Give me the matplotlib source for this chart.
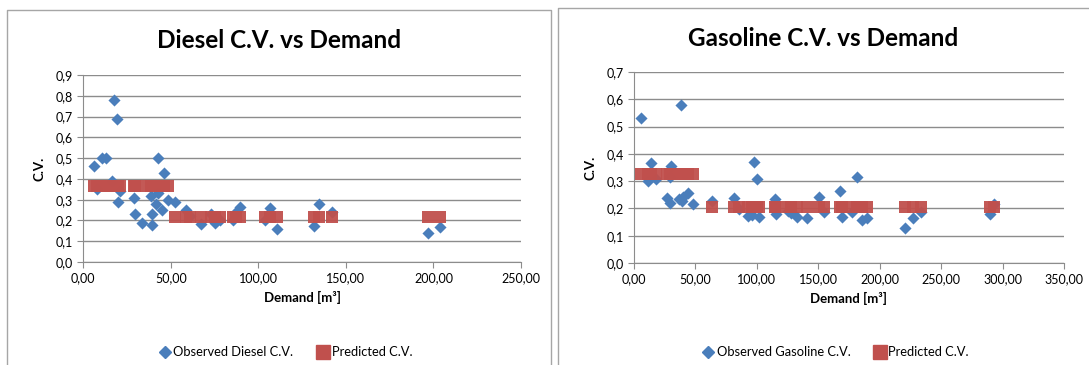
import numpy as np
import matplotlib.pyplot as plt
from matplotlib.ticker import FuncFormatter, MultipleLocator
from matplotlib.lines import Line2D

plt.rcParams['font.family'] = ['Lato', 'DejaVu Sans']

# Diesel: observed C.V. and predicted C.V. against demand [m3]
diesel_demand = [6.2, 7.6, 10.5, 13.0, 16.5, 17.7, 19.4, 20.0, 20.9, 29.0, 29.5,
                 33.8, 38.6, 39.5, 39.5, 41.8, 42.4, 42.8, 45.0, 46.2, 48.5, 52.3,
                 58.5, 61.0, 67.5, 73.2, 75.0, 78.0, 85.5, 87.4, 89.3, 104.0,
                 106.4, 110.8, 131.7, 134.5, 141.8, 196.7, 204.0]
diesel_observed = [0.46, 0.35, 0.50, 0.50, 0.39, 0.78, 0.69, 0.29, 0.34, 0.31, 0.23,
                   0.19, 0.32, 0.18, 0.23, 0.28, 0.33, 0.50, 0.25, 0.43, 0.30, 0.29,
                   0.25, 0.22, 0.185, 0.23, 0.19, 0.20, 0.20, 0.24, 0.265, 0.20,
                   0.26, 0.157, 0.173, 0.277, 0.24, 0.14, 0.17]
diesel_predicted = [0.367] * 21 + [0.215] * 18

# Gasoline: observed C.V. and predicted C.V. against demand [m3]
gasoline_demand = [5.7, 11.1, 13.8, 17.9, 26.6, 29.3, 29.3, 30.0, 36.8, 38.2, 38.8,
                   40.0, 44.2, 47.7, 63.7, 81.3, 85.6, 93.0, 96.0, 97.8, 99.8,
                   101.9, 114.6, 115.4, 125.0, 128.2, 132.3, 140.9, 150.7, 154.5,
                   167.5, 169.7, 177.8, 181.6, 185.6, 189.9, 220.3, 227.1, 233.9,
                   290.0, 292.9]
gasoline_observed = [0.53, 0.30, 0.367, 0.307, 0.24, 0.22, 0.316, 0.355, 0.233, 0.58,
                     0.228, 0.243, 0.255, 0.216, 0.227, 0.24, 0.198, 0.172, 0.175,
                     0.369, 0.308, 0.17, 0.233, 0.18, 0.19, 0.182, 0.167, 0.164,
                     0.243, 0.186, 0.264, 0.167, 0.188, 0.316, 0.157, 0.164, 0.127,
                     0.166, 0.188, 0.178, 0.216]
gasoline_predicted = [0.328] * 14 + [0.206] * 27

blue = '#4a7ebb'
red = '#c0504d'
grid_gray = '#8c8c8c'


def comma(decimals):
    return FuncFormatter(lambda v, p: f'{v:.{decimals}f}'.replace('.', ','))


def draw_panel(ax, x, obs, pred, xmax, xstep, ymax, obs_label, legend_x):
    ax.scatter(x, obs, marker='D', s=38, color=blue, linewidths=0, zorder=3)
    ax.scatter(x, pred, marker='s', s=80, color=red, linewidths=0, alpha=0.95, zorder=4)
    ax.set_xlim(0, xmax)
    ax.set_ylim(0, ymax)
    ax.xaxis.set_major_locator(MultipleLocator(xstep))
    ax.yaxis.set_major_locator(MultipleLocator(0.1))
    ax.xaxis.set_major_formatter(comma(2))
    ax.yaxis.set_major_formatter(comma(1))
    ax.grid(axis='y', color=grid_gray, linewidth=1)
    ax.set_axisbelow(True)
    for side in ('top', 'right'):
        ax.spines[side].set_visible(False)
    for side in ('left', 'bottom'):
        ax.spines[side].set_color(grid_gray)
    ax.tick_params(colors=grid_gray, labelcolor='black', labelsize=9, length=4)
    ax.set_xlabel('Demand [m³]', fontsize=9.5, fontweight='bold', labelpad=5)
    ax.set_ylabel('C.V.', fontsize=9.5, fontweight='bold', labelpad=7)

    handles = [Line2D([], [], marker='D', color=blue, linestyle='none', markersize=6),
               Line2D([], [], marker='s', color=red, linestyle='none', markersize=9.5)]
    fig.legend(handles, [obs_label, 'Predicted C.V.'], loc='center', ncol=2,
               bbox_to_anchor=(legend_x, 0.035), frameon=False, fontsize=9.3,
               handletextpad=0.15, columnspacing=1.8, handlelength=1.0)


fig = plt.figure(figsize=(10.89, 3.65), dpi=100)

ax1 = fig.add_axes([0.0765, 0.2822, 0.4019, 0.5123])
draw_panel(ax1, diesel_demand, diesel_observed, diesel_predicted, 250, 50, 0.9,
           'Observed Diesel C.V.', 0.262)

ax2 = fig.add_axes([0.5822, 0.2795, 0.3948, 0.5232])
draw_panel(ax2, gasoline_demand, gasoline_observed, gasoline_predicted, 350, 50, 0.7,
           'Observed Gasoline C.V.', 0.767)

# chart titles centred on each chart frame
fig.text(279 / 1089, 1 - 40 / 365, 'Diesel C.V. vs Demand', ha='center', va='center',
         fontsize=17.5, fontweight='bold')
fig.text(823 / 1089, 1 - 38 / 365, 'Gasoline C.V. vs Demand', ha='center', va='center',
         fontsize=17.5, fontweight='bold')

# chart frames
frame = '#a6a6a6'
for xs, ys in [([7, 7, 551, 551], [370, 10, 10, 370]),
               ([558, 558, 1095], [370, 8, 8])]:
    fig.add_artist(Line2D(np.array(xs) / 1089, 1 - np.array(ys) / 365,
                          color=frame, linewidth=1, transform=fig.transFigure))

fig.savefig('out.png', dpi=100)
